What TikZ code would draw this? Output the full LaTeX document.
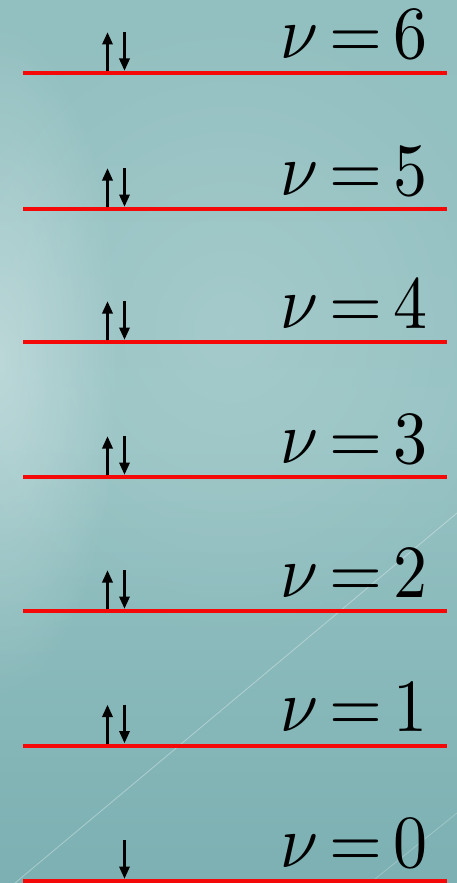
\documentclass[tikz,border=0pt]{standalone}
\usetikzlibrary{arrows.meta,fadings}
\definecolor{bgtop}{RGB}{146,191,192}
\definecolor{bgmid}{RGB}{150,194,195}
\definecolor{bgbot}{RGB}{124,176,178}
\definecolor{levelred}{RGB}{245,8,8}
\tikzfading[name=softfade, inner color=transparent!0, outer color=transparent!100]
\tikzset{
  level/.style={draw=levelred, line width=4pt},
  spin/.style={line width=3.4pt, -{Triangle[length=12.5pt,width=10pt]}},
  lab/.style={anchor=base east, inner sep=0pt},
  glint/.style={draw=white, opacity=0.35, line width=0.8pt}
}
\newcommand{\nulab}[1]{\scalebox{6.8}[7.5]{$\nu\mkern3mu{=}\mkern3mu#1$}}
\begin{document}
\begin{tikzpicture}[x=1pt,y=-1pt]
  \useasboundingbox (0,0) rectangle (457,883);
  % background
  \shade[top color=bgtop, bottom color=bgbot, middle color=bgmid] (0,0) rectangle (457,883);
  \fill[white, opacity=0.35, path fading=softfade] (0,360) ellipse [x radius=120, y radius=340];
  \fill[white, opacity=0.15, path fading=softfade] (230,330) ellipse [x radius=300, y radius=320];
  \draw[glint] (457,513) -- (15,883);
  \draw[glint, opacity=0.25] (457,813) -- (370,883);
  % levels
  \foreach \n/\y in {6/73,5/209,4/342,3/477,2/611,1/745.5,0/881}{
    \coordinate (L\n) at (23,\y);
    \coordinate (R\n) at (447,\y);
    \draw[level] (L\n) -- (R\n);
    \node[lab] (nu\n) at (428,\y-14) {\nulab{\n}};
    \coordinate (dtop\n) at (124.5,\y-41);
    \coordinate (dbot\n) at (124.5,\y-2);
  }
  \foreach \n/\y in {6/73,5/209,4/342,3/477,2/611,1/745.5}{
    \coordinate (ubot\n) at (107.5,\y-2);
    \coordinate (utop\n) at (107.5,\y-41);
    \draw[spin] (ubot\n) -- (utop\n);
  }
  \foreach \n in {6,5,4,3,2,1,0}{
    \draw[spin] (dtop\n) -- (dbot\n);
  }
\end{tikzpicture}
\end{document}
